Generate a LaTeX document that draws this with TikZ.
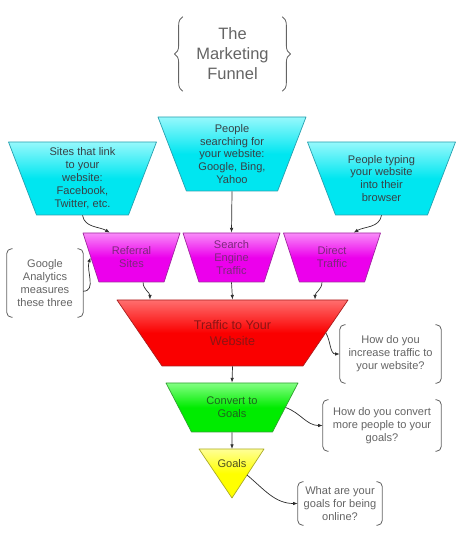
\documentclass[tikz,border=0pt]{standalone}
\usepackage{fontspec}
\setmainfont{Liberation Sans}
\usetikzlibrary{shapes.geometric,arrows.meta,decorations.pathreplacing}
\definecolor{cyanMain}{RGB}{0,230,240}
\definecolor{cyanLight}{RGB}{150,248,252}
\definecolor{cyanEdge}{RGB}{40,160,175}
\definecolor{cyanText}{RGB}{55,65,70}
\definecolor{pinkMain}{RGB}{236,0,236}
\definecolor{pinkLight}{RGB}{248,140,248}
\definecolor{pinkEdge}{RGB}{160,40,160}
\definecolor{pinkText}{RGB}{125,40,125}
\definecolor{redMain}{RGB}{250,0,0}
\definecolor{redLight}{RGB}{255,110,110}
\definecolor{redEdge}{RGB}{170,30,30}
\definecolor{redText}{RGB}{140,20,20}
\definecolor{greenMain}{RGB}{0,236,0}
\definecolor{greenLight}{RGB}{130,255,130}
\definecolor{greenEdge}{RGB}{50,160,50}
\definecolor{greenText}{RGB}{30,100,30}
\definecolor{yellowMain}{RGB}{255,255,0}
\definecolor{yellowLight}{RGB}{255,255,150}
\definecolor{yellowEdge}{RGB}{170,170,40}
\definecolor{yellowText}{RGB}{80,80,30}
\definecolor{noteGray}{RGB}{100,100,100}
\definecolor{arrowGray}{RGB}{45,45,45}

% one pixel of the 463x540 canvas
\newcommand{\pxl}{0.85pt}

% text block of fixed height (px) and width (px), so the trapezium gets that height
\newcommand{\inbox}[3]{\parbox[c][\dimexpr\pxl*#1\relax][c]{\dimexpr\pxl*#2\relax}{\centering #3}}

% rounded bracket pair drawn round a note node
\newcommand{\notebrackets}[1]{%
  \draw[bracket] ([xshift=5pt]#1.north west) -- (#1.north west) -- (#1.south west) -- ([xshift=5pt]#1.south west);
  \draw[bracket] ([xshift=-5pt]#1.north east) -- (#1.north east) -- (#1.south east) -- ([xshift=-5pt]#1.south east);}

\tikzset{
  funnel/.style n args={2}{trapezium, shape border rotate=180, trapezium stretches body,
    trapezium angle=#2, minimum width=#1*\pxl,
    inner sep=0pt, line width=0.6pt, font=\fontsize{9.4}{11}\selectfont},
  tint/.style={draw=#1Edge, top color=#1Light, bottom color=#1Main, middle color=#1Main,
    text=#1Text},
  note/.style={inner sep=0pt, align=center, text=noteGray, font=\fontsize{9.4}{11}\selectfont},
  bracket/.style={draw=noteGray, line width=0.7pt, rounded corners=4pt},
  flow/.style={draw=arrowGray, line width=0.6pt, -{Latex[length=4pt,width=3pt]}}
}

\begin{document}
\begin{tikzpicture}[x=\pxl, y=\pxl, line join=round]

% fixed canvas, 463 x 540 pixels
\path[use as bounding box] (0,0) rectangle (463,540);

% title between curly braces
\node[note, font=\fontsize{14}{17}\selectfont, minimum width=99*\pxl, minimum height=74*\pxl]
  (title) at (232.5,486) {The\\Marketing\\Funnel};
\draw[draw=noteGray, line width=0.7pt, decorate, decoration={brace, amplitude=7pt}]
  (title.south west) -- (title.north west);
\draw[draw=noteGray, line width=0.7pt, decorate, decoration={brace, amplitude=7pt}]
  (title.north east) -- (title.south east);

% sources of visitors
\node[funnel={148}{69}, tint=cyan] (linkSites) at (82.5,361.5)
  {\inbox{73}{84}{Sites that link\\to your\\website:\\Facebook,\\Twitter, etc.}};
\node[funnel={148}{69}, tint=cyan] (searchPeople) at (232,386)
  {\inbox{74}{84}{People\\searching for\\your website:\\Google, Bing,\\Yahoo}};
\node[funnel={148}{69}, tint=cyan] (typePeople) at (381.5,361.5)
  {\inbox{73}{84}{People typing\\your website\\into their\\browser}};

% the three kinds of traffic
\node[funnel={97}{72}, tint=pink] (referral) at (131.5,282.5) {\inbox{49}{60}{Referral\\Sites}};
\node[funnel={97}{72}, tint=pink] (engine) at (231.5,282.5) {\inbox{49}{60}{Search\\Engine\\Traffic}};
\node[funnel={97}{72}, tint=pink] (direct) at (332,282.5) {\inbox{49}{60}{Direct\\Traffic}};

% funnel body
\node[funnel={231}{55.7}, tint=red, font=\fontsize{10.7}{12.8}\selectfont]
  (traffic) at (232.5,207) {\inbox{66}{120}{Traffic to Your\\Website}};
\node[funnel={132}{62.5}, tint=green] (convert) at (232,132.5) {\inbox{49}{76}{Convert to\\Goals}};

% funnel tip
\path[tint=yellow, line width=0.6pt] (199,91) -- (264,91) -- (232,42) -- cycle;
\node[text=yellowText, font=\fontsize{9.4}{11}\selectfont] (goals) at (232,76) {Goals};
\coordinate (goalsTop) at (232,91);
\coordinate (goalsSide) at (247,65);

% side notes
\node[note, minimum width=76*\pxl, minimum height=68*\pxl] (google) at (45,257)
  {Google\\Analytics\\measures\\these three};
\notebrackets{google}
\node[note, minimum width=101*\pxl, minimum height=58*\pxl] (increase) at (390.5,186)
  {How do you\\increase traffic to\\your website?};
\notebrackets{increase}
\node[note, minimum width=118*\pxl, minimum height=51*\pxl] (convertNote) at (382,114.5)
  {How do you convert\\more people to your\\goals?};
\notebrackets{convertNote}
\node[note, minimum width=84*\pxl, minimum height=43*\pxl] (whatNote) at (340,36.5)
  {What are your\\goals for being\\online?};
\notebrackets{whatNote}

% connectors
\draw[flow] (linkSites.south) to[out=-80,in=150] (referral.131);
\draw[flow] (searchPeople.south) -- (engine.north);
\draw[flow] (typePeople.south) to[out=-100,in=30] (direct.49);
\draw[flow] ([yshift=-7pt]google.east) to[out=0,in=-110] (referral.west);
\draw[flow] (referral.-65) to[out=-90,in=90] (traffic.158);
\draw[flow] (engine.south) -- (traffic.north);
\draw[flow] (direct.-112) to[out=-90,in=90] (traffic.22);
\draw[flow] (traffic.east) to[out=-60,in=180] (increase.west);
\draw[flow] (traffic.south) -- (convert.north);
\draw[flow] (convert.east) to[out=-20,in=180] (convertNote.west);
\draw[flow] (convert.south) -- (goalsTop);
\draw[flow] (goalsSide) to[out=-40,in=180] (whatNote.west);

\end{tikzpicture}
\end{document}
